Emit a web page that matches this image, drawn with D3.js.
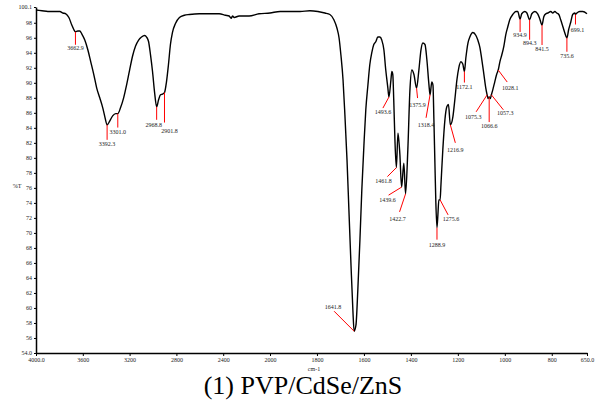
<!DOCTYPE html>
<html>
<head>
<meta charset="utf-8">
<script src="https://cdnjs.cloudflare.com/ajax/libs/d3/7.8.5/d3.min.js"></script>
<style>
  body { margin: 0; background: #fff; }
  svg { display: block; font-family: "Liberation Serif", "DejaVu Serif", serif; }
  .axis text { font-size: 6px; fill: #222; font-family: "Liberation Serif", serif; }
  .axis path, .axis line { stroke: #000; }
  .peak-text { font-size: 6px; fill: #222; text-anchor: middle; }
</style>
</head>
<body>
<script>
// spectrum: wavenumber (cm-1) and %T
const wavenumbers = [4000, 3949, 3898, 3838, 3796, 3770, 3745, 3719, 3694, 3677, 3662.9, 3643, 3626, 3608,
  3583, 3557, 3532, 3506, 3481, 3455, 3430, 3412, 3392.3, 3370, 3345, 3319, 3301, 3277, 3251, 3226, 3200,
  3174, 3149, 3123, 3098, 3072, 3055, 3038, 3021, 3004, 2987, 2968.8, 2953, 2936, 2919, 2901.8, 2885,
  2868, 2851, 2834, 2808, 2774, 2732, 2689, 2604, 2519, 2434, 2380, 2349, 2332, 2320, 2306, 2264, 2179,
  2094, 2000, 1957, 1915, 1872, 1830, 1796, 1766, 1745, 1728, 1715, 1706, 1698, 1689, 1681, 1672, 1664,
  1655, 1647, 1641.8, 1634, 1626, 1617, 1609, 1600, 1592, 1583, 1575, 1566, 1558, 1549, 1541, 1532, 1524,
  1515, 1507, 1498, 1493.6, 1485, 1481, 1477, 1473, 1468, 1461.8, 1455, 1447, 1439.6, 1430, 1422.7,
  1413, 1404, 1396, 1387, 1375.9, 1366, 1357, 1349, 1340, 1332, 1323, 1318.4, 1311, 1306, 1302, 1298,
  1294, 1288.9, 1285, 1281, 1275.6, 1272, 1264, 1255, 1247, 1240, 1232, 1221, 1213, 1204, 1196, 1187,
  1179, 1172.1, 1166, 1157, 1149, 1136, 1123, 1115, 1106, 1098, 1089, 1081, 1075.3, 1071, 1066.6, 1062,
  1057.3, 1051, 1043, 1034, 1028.1, 1021, 1013, 1004, 996, 987, 979, 966, 953, 945, 934.9, 928, 915,
  906, 894.3, 885, 872, 860, 851, 841.5, 834, 825, 817, 804, 796, 787, 779, 770, 762, 753, 745, 735.6,
  728, 719, 711, 702, 699.1, 693, 681, 668, 650];
const transmittance = [99.7, 99.6, 99.5, 99.5, 99.5, 99.3, 99.2, 98.7, 97.7, 97.1, 96.8, 96.9, 96.9, 96.5,
  95.7, 94.4, 92.8, 91.1, 89.3, 88.0, 86.7, 85.5, 84.4, 84.9, 85.6, 85.9, 85.9, 86.7, 88.0, 89.7, 91.7,
  93.6, 94.9, 95.7, 96.1, 96.3, 96.1, 95.5, 93.7, 91.5, 88.8, 86.8, 87.7, 88.4, 88.5, 88.7, 90.1,
  92.4, 95.1, 96.7, 97.9, 98.7, 99.0, 99.1, 99.2, 99.2, 99.2, 99.0, 98.9, 98.6, 98.9, 98.7, 98.9, 98.9,
  99.2, 99.3, 99.5, 99.5, 99.5, 99.6, 99.5, 99.3, 99.1, 98.4, 97.3, 96.0, 93.7, 90.4, 85.7, 79.7, 73.1,
  65.7, 59.7, 56.9, 57.7, 62.4, 69.1, 75.7, 81.7, 86.4, 89.7, 92.4, 94.1, 95.1, 95.5, 96.1, 96.1, 95.7,
  94.4, 91.7, 89.3, 88.1, 90.4, 91.5, 91.1, 87.7, 82.4, 78.7, 83.3, 80.5, 76.1, 79.3, 75.2,
  81.1, 89.1, 91.7, 91.1, 89.3, 91.7, 94.4, 95.3, 95.1, 93.1, 89.7, 88.4, 90.1, 89.7, 85.1, 79.7,
  74.4, 70.7, 72.4, 74.4, 74.4, 76.4, 81.1, 85.1, 86.8, 87.1, 84.4, 85.5, 87.7, 90.4, 92.0, 92.8,
  92.5, 91.5, 93.3, 95.3, 96.1, 96.7, 96.3, 95.7, 94.7, 93.1, 91.1, 89.3, 88.4, 87.9, 88.1, 87.9,
  88.4, 89.1, 90.1, 91.2, 91.7, 92.8, 93.7, 94.9, 96.4, 97.5, 98.4, 99.1, 99.5, 99.5, 98.5, 99.2, 99.5,
  99.3, 98.4, 99.2, 99.5, 99.2, 98.5, 97.7, 98.8, 99.2, 99.3, 99.5, 99.3, 99.5, 99.3, 99.1, 98.4, 97.5, 96.7, 96.0,
  97.1, 98.1, 99.1, 99.3, 99.1, 99.3, 99.5, 99.5, 99.2];

// labelled peaks: position, %T at the peak, printed text
const peakWn = [3662.9, 3392.3, 3301.0, 2968.8, 2901.8, 1641.8, 1493.6, 1461.8, 1439.6, 1422.7, 1375.9,
  1318.4, 1288.9, 1275.6, 1232, 1172.1, 1075.3, 1066.6, 1057.3, 1028.1, 934.9, 894.3, 841.5, 735.6, 699.1];
const peakT = [96.8, 84.4, 85.9, 86.8, 88.7, 56.9, 88.1, 78.7, 76.1, 75.2, 89.3,
  88.4, 70.7, 74.4, 84.4, 91.5, 88.4, 88.1, 88.4, 91.7, 98.5, 98.4, 97.7, 96.0, 99.1];
const peakText = ['3662.9', '3392.3', '3301.0', '2968.8', '2901.8', '1641.8', '1493.6', '1461.8', '1439.6',
  '1422.7', '1375.9', '1318.4', '1288.9', '1275.6', '1216.9', '1172.1', '1075.3', '1066.6', '1057.3',
  '1028.1', '934.9', '894.3', '841.5', '735.6', '699.1'];

const xTicks = [4000, 3600, 3200, 2800, 2400, 2000, 1800, 1600, 1400, 1200, 1000, 800, 650];
const yTicks = [54, 56, 58, 60, 62, 64, 66, 68, 70, 72, 74, 76, 78, 80, 82, 84, 86, 88, 90, 92, 94, 96, 98, 100.1];

// where each label goes, relative to its peak: [line dx, line dy, text dx, text dy]
const labelLayout = [[0, 13, 0, 18], [0, 15, 0, 21], [0, 14, 0, 20], [0, 13, -3, 20], [0, 30, 5, 40],
  [-20, -20, -21, -22], [-6, 11, -6, 17], [-9, 9, -13, 15], [-13, 8, -14, 15], [-6, 18, -8, 27],
  [1, 10, 1, 19], [-4, 23, -4, 32], [0, 12, 0, 19], [8, 15, 11, 21], [5, 18, 5, 27],
  [0, 11, 0, 17], [-11, 17, -14, 24], [0, 25, 0, 31], [12, 15, 14, 20], [9, 12, 12, 20],
  [0, 13, 0, 18], [0, 20, 0, 25], [0, 20, 0, 26], [0, 14, 0, 20], [0, 10, 2, 17]];

const width = 597, height = 405;

const svg = d3.select('body').append('svg')
  .attr('width', width)
  .attr('height', height);

// IR scale: compressed above 2000 cm-1
const x = d3.scaleLinear().domain([4000, 2000, 650]).range([36, 270, 587]);
const y = d3.scaleLinear().domain([54, 100.1]).range([353, 7]);

const xFmt = d => (d === 4000 || d === 650) ? d.toFixed(1) : String(d);
const yFmt = d => (d === 54 || d === 100.1) ? d.toFixed(1) : String(d);

svg.append('g')
  .attr('class', 'axis')
  .attr('transform', 'translate(0,353)')
  .call(d3.axisBottom(x).tickValues(xTicks).tickFormat(xFmt).tickSize(3).tickSizeOuter(0).tickPadding(2))
  .attr('font-family', null);

svg.append('g')
  .attr('class', 'axis')
  .attr('transform', 'translate(36,0)')
  .call(d3.axisLeft(y).tickValues(yTicks).tickFormat(yFmt).tickSize(2).tickSizeOuter(0).tickPadding(2))
  .attr('font-family', null);

svg.selectAll('.axis path').attr('stroke-width', 1.5);

// spectrum
const points = wavenumbers.map((w, i) => [w, transmittance[i]]);
svg.append('path')
  .datum(points)
  .attr('fill', 'none')
  .attr('stroke', '#000')
  .attr('stroke-width', 1.4)
  .attr('stroke-linejoin', 'round')
  .attr('d', d3.line().x(d => x(d[0])).y(d => y(d[1])).curve(d3.curveMonotoneX));

// peak markers
const peaks = svg.append('g').attr('class', 'peaks');
peakWn.forEach((w, i) => {
  const px = x(w), py = y(peakT[i]);
  const [lx, ly, tx, ty] = labelLayout[i];
  peaks.append('line')
    .attr('x1', px).attr('y1', py)
    .attr('x2', px + lx).attr('y2', py + ly)
    .attr('stroke', '#ff0000')
    .attr('stroke-width', 1);
  peaks.append('text')
    .attr('class', 'peak-text')
    .attr('x', px + tx)
    .attr('y', py + ty)
    .text(peakText[i]);
});

svg.append('text')
  .attr('x', 17).attr('y', 188)
  .attr('text-anchor', 'middle')
  .attr('font-size', 6).attr('fill', '#222')
  .text('%T');

svg.append('text')
  .attr('x', 314).attr('y', 371)
  .attr('text-anchor', 'middle')
  .attr('font-size', 6).attr('fill', '#222')
  .text('cm-1');

svg.append('text')
  .attr('x', 303).attr('y', 394)
  .attr('text-anchor', 'middle')
  .attr('font-size', 26).attr('fill', '#000')
  .text('(1) PVP/CdSe/ZnS');
</script>
</body>
</html>
